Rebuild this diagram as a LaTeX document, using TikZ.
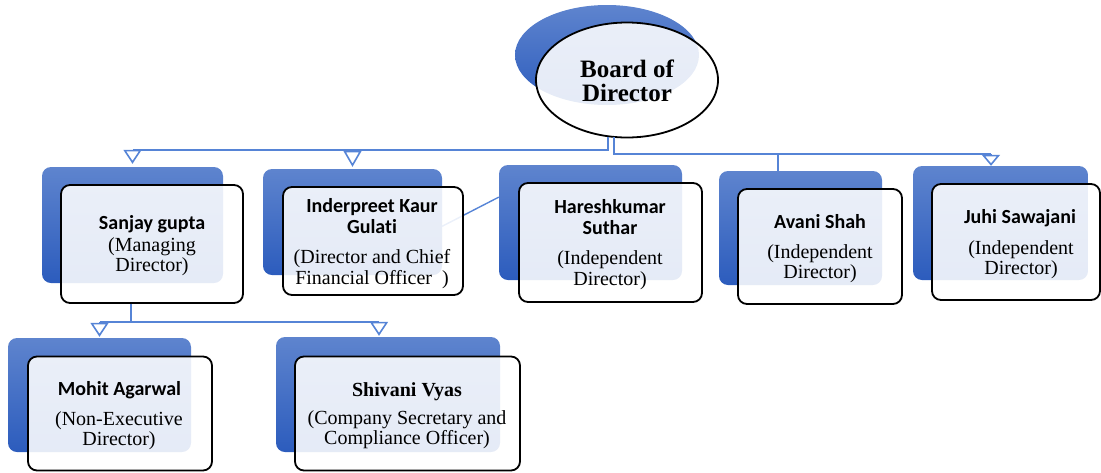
\documentclass[tikz,border=0pt]{standalone}
\usepackage{fontspec}
\setmainfont{Liberation Serif}
\newfontfamily\tnr{Liberation Serif}[BoldFont={Liberation Serif Bold}]
\newfontfamily\namefont{Carlito}[Ligatures={NoCommon,NoRequired,NoContextual}]
\usetikzlibrary{arrows.meta,shapes.geometric,calc}
\definecolor{bgtop}{RGB}{94,132,206}
\definecolor{bgbot}{RGB}{44,92,189}
\definecolor{lc}{RGB}{86,132,214}
\tikzset{
  backbox/.style={rectangle, rounded corners=9pt, top color=bgtop, bottom color=bgbot, draw=none, inner sep=0pt},
  frontbox/.style={rectangle, draw=black, line width=1.8pt, rounded corners=9pt, fill=white, fill opacity=0.88, inner sep=0pt},
  conn/.style={draw=lc, line width=1.6pt},
  vtip/.style={-{Triangle[open,length=#1,width=18pt]}},
  nm/.style={anchor=base, inner sep=0pt, font=\namefont\bfseries\fontsize{20}{20}\selectfont},
  ds/.style={anchor=base, inner sep=0pt, font=\tnr\fontsize{20}{20}\selectfont},
  serifname/.style={anchor=base, inner sep=0pt, font=\tnr\bfseries\fontsize{20}{20}\selectfont},
  bd/.style={anchor=base, inner sep=0pt, font=\tnr\bfseries\fontsize{25}{25}\selectfont}
}
\begin{document}
\begin{tikzpicture}[x=1pt,y=-1pt]
\useasboundingbox (0,0) rectangle (1101,472);
% back shapes
\node[ellipse, top color=bgtop, bottom color=bgbot, minimum width=184pt, minimum height=100pt, inner sep=0pt] (boardb) at (607,55) {};
\node[backbox, minimum width=181pt, minimum height=116pt] (sanjayb) at (132.5,225) {};
\node[backbox, minimum width=179pt, minimum height=106pt] (inderb) at (352.5,222) {};
\node[backbox, minimum width=183pt, minimum height=115pt] (hareshb) at (590.5,222.5) {};
\node[backbox, minimum width=163pt, minimum height=114pt] (avanib) at (800.5,228) {};
\node[backbox, minimum width=175pt, minimum height=114pt] (juhib) at (1000.5,223) {};
\node[backbox, minimum width=183pt, minimum height=114pt] (mohitb) at (99.5,395) {};
\node[backbox, minimum width=224pt, minimum height=115pt] (shivb) at (388,394.5) {};
% front ellipse
\node[ellipse, draw=black, line width=1.8pt, fill=white, fill opacity=0.88, minimum width=182pt, minimum height=115pt, inner sep=0pt] (board) at (627,80) {};
% connectors
\coordinate (j1) at (608,150);
\coordinate (j2) at (614,154);
\coordinate (ja) at (991,0);
\coordinate (av) at (778,0);
\coordinate (sv) at (131,322);
\coordinate (sa) at (379,0);
\draw[conn] ($(board.south)+(-19,-1.5)$) -- (j1) -- (j1 -| sanjayb.north);
\draw[conn,vtip=14pt] (j1 -| sanjayb.north) -- ($(sanjayb.north)+(0,-3)$);
\draw[conn,vtip=16pt] (j1 -| inderb.north) -- ($(inderb.north)+(0,-2)$);
\draw[conn] ($(board.south)+(-13,-1.5)$) -- (j2) -- (j2 -| ja);
\draw[conn,vtip=11pt] (j2 -| ja) -- (juhib.north -| ja);
\draw[conn] (j2 -| av) -- (avanib.north -| av);
\draw[draw=lc, line width=1.4pt] ($(inderb.north east)!0.54!(inderb.south east)$) -- ($(hareshb.north west)!0.28!(hareshb.south west)$);
% front boxes
\node[frontbox, minimum width=182pt, minimum height=118pt] (sanjay) at (152,244) {};
\node[frontbox, minimum width=180pt, minimum height=108pt] (inder) at (373,241) {};
\node[frontbox, minimum width=183pt, minimum height=119pt] (haresh) at (610.5,242.5) {};
\node[frontbox, minimum width=164pt, minimum height=115pt] (avani) at (820,246.5) {};
\node[frontbox, minimum width=168pt, minimum height=116pt] (juhi) at (1016,242) {};
\node[frontbox, minimum width=184pt, minimum height=114pt] (mohit) at (120,413.5) {};
\node[frontbox, minimum width=225pt, minimum height=114pt] (shiv) at (407.5,413.5) {};
% lower connectors
\draw[conn] (sanjay.south -| sv) -- (sv);
\draw[conn] (sv -| mohitb.north) -- (sv -| sa);
\draw[conn,vtip=14pt] (sv -| mohitb.north) -- ($(mohitb.north)+(0,-1)$);
\draw[conn,vtip=14pt] (sv -| sa) -- ($(shivb.north -| sa)+(0,-1)$);
% texts
\node[bd] (t1) at (627,77) {Board of};
\node[bd] (t2) at (627,101) {Director};
\node[nm] (t3) at (152,229) {Sanjay gupta};
\node[ds] (t4) at (152,251) {(Managing};
\node[ds] (t5) at (152,271) {Director)};
\node[nm] (t6) at (372,212) {Inderpreet Kaur};
\node[nm] (t7) at (372,233) {Gulati};
\node[ds] (t8) at (372,263) {(Director and Chief};
\node[ds] (t9) at (372,284) {Financial Officer\ \ )};
\node[nm] (t10) at (610,213) {Hareshkumar};
\node[nm] (t11) at (610,234) {Suthar};
\node[ds] (t12) at (610,264) {(Independent};
\node[ds] (t13) at (610,285.5) {Director)};
\node[nm] (t14) at (820,228) {Avani Shah};
\node[ds] (t15) at (820,258) {(Independent};
\node[ds] (t16) at (820,278) {Director)};
\node[nm] (t17) at (1020,223) {Juhi Sawajani};
\node[ds] (t18) at (1021,254) {(Independent};
\node[ds] (t19) at (1021,274) {Director)};
\node[nm] (t20) at (119.5,395) {Mohit Agarwal};
\node[ds] (t21) at (119,425) {(Non-Executive};
\node[ds] (t22) at (119,445) {Director)};
\node[serifname] (t23) at (407,396) {Shivani Vyas};
\node[ds] (t24) at (407,424) {(Company Secretary and};
\node[ds] (t25) at (407,444) {Compliance Officer)};
\end{tikzpicture}
\end{document}
